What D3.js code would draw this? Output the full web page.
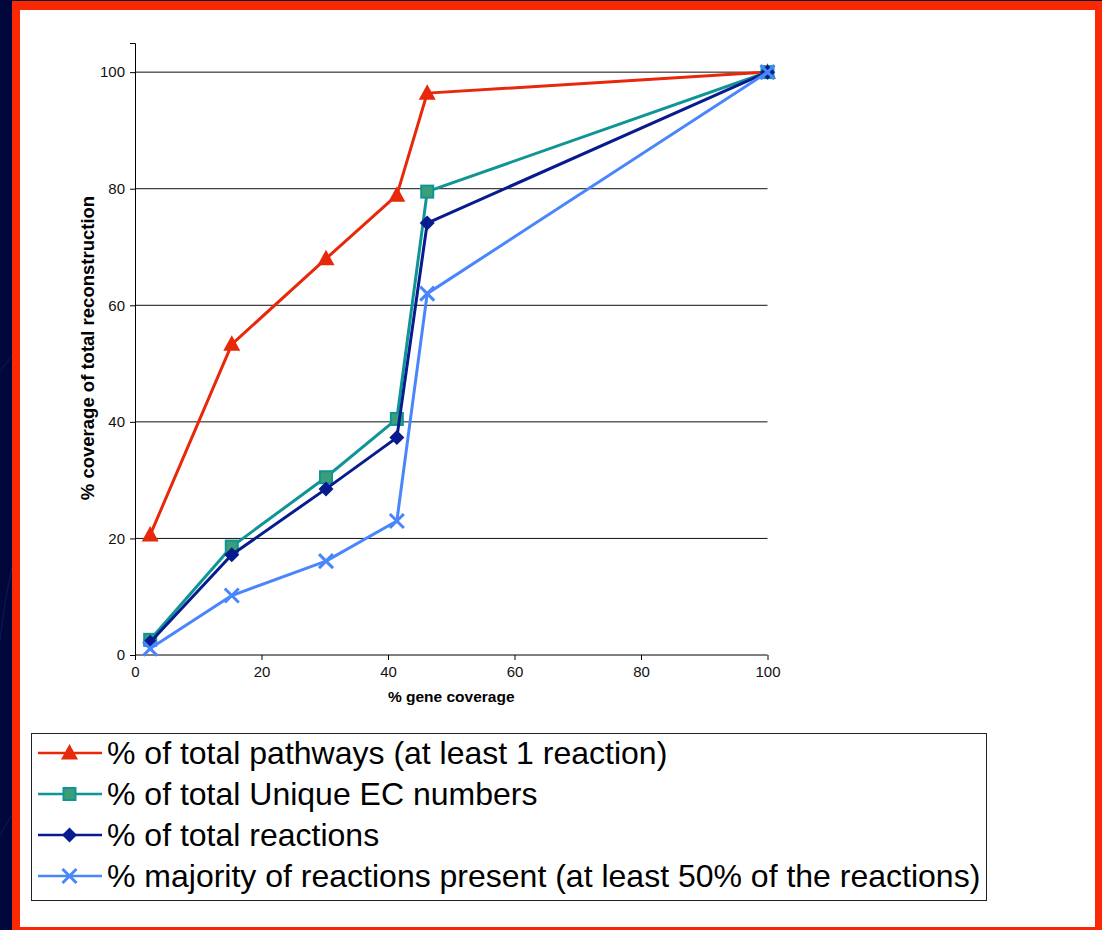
<!DOCTYPE html>
<html>
<head>
<meta charset="utf-8">
<script src="https://cdn.jsdelivr.net/npm/d3@7"></script>
<style>
  html, body { margin: 0; padding: 0; background: #01073a; }
  svg { display: block; }
  text { font-family: "Liberation Sans", Arial, Helvetica, sans-serif; }
</style>
</head>
<body>
<svg id="chart" width="1102" height="930"></svg>
<script>
// % gene coverage at each sampling point
const geneCoverage = [2.4, 15.3, 30.2, 41.4, 46.2, 100];

// % coverage of the total reconstruction for each measure
const pathways  = [20.6, 53.3, 68.0, 78.9, 96.4, 100];
const ecNumbers = [2.6, 18.6, 30.5, 40.5, 79.5, 100];
const reactions = [2.2, 17.2, 28.5, 37.3, 74.1, 100];
const majority  = [1.1, 10.2, 16.1, 23.0, 62.0, 100];

const seriesNames = [
  "% of total pathways (at least 1 reaction)",
  "% of total Unique EC numbers",
  "% of total reactions",
  "% majority of reactions present (at least 50% of the reactions)"
];

const xTicks = [0, 20, 40, 60, 80, 100];
const yTicks = [0, 20, 40, 60, 80, 100];

const xTitle = "% gene coverage";
const yTitle = "% coverage of total reconstruction";

const series = [
  { name: seriesNames[0], values: pathways,  line: "#e8280a", fill: "#e8280a", stroke: "none",    marker: "triangle" },
  { name: seriesNames[1], values: ecNumbers, line: "#0f9595", fill: "#3b9e79", stroke: "#0f9595", marker: "square" },
  { name: seriesNames[2], values: reactions, line: "#071b8e", fill: "#071b8e", stroke: "none",    marker: "diamond" },
  { name: seriesNames[3], values: majority,  line: "#4a86fb", fill: "none",    stroke: "#4a86fb", marker: "cross" }
];

const svg = d3.select("#chart");
const W = 1102, H = 930;

// Slide backdrop: navy field with faint sweeping curves, red frame, white panel
svg.append("rect").attr("width", W).attr("height", H).attr("fill", "#01073a");
const curves = svg.append("g").attr("fill", "none").attr("stroke", "#2a3f8a").attr("stroke-opacity", 0.35).attr("stroke-width", 1);
curves.append("path").attr("d", "M-40,430 Q20,330 120,250");
curves.append("path").attr("d", "M0,640 Q8,560 40,470");
curves.append("path").attr("d", "M-10,860 Q10,800 60,770");
svg.append("rect").attr("x", 12).attr("y", 1).attr("width", W - 12).attr("height", H - 1).attr("fill", "#fa2805");
svg.append("rect").attr("x", 20).attr("y", 10).attr("width", 1075).attr("height", 917).attr("fill", "#ffffff");

// Plot area
const x = d3.scaleLinear().domain([0, 100]).range([135, 767.5]);
const y = d3.scaleLinear().domain([0, 105]).range([655, 43]);

const plot = svg.append("g");

// Horizontal gridlines
plot.append("g")
  .selectAll("line")
  .data(yTicks.filter(d => d > 0))
  .join("line")
  .attr("x1", x(0)).attr("x2", x(100))
  .attr("y1", d => y(d)).attr("y2", d => y(d))
  .attr("stroke", "#111").attr("stroke-width", 1);

// Axes
const xAxis = d3.axisBottom(x).tickValues(xTicks).tickSize(5).tickPadding(6).tickFormat(d3.format("d"));
const yAxis = d3.axisLeft(y).tickValues(yTicks).tickSize(5).tickPadding(5).tickFormat(d3.format("d"));

const gx = plot.append("g").attr("transform", `translate(0,${y(0)})`).call(xAxis);
const gy = plot.append("g").attr("transform", `translate(${x(0)},0)`).call(yAxis);
[gx, gy].forEach(g => {
  g.select(".domain").attr("stroke", "#000").attr("stroke-width", 1);
  g.selectAll(".tick line").attr("stroke", "#000");
  g.selectAll(".tick text")
    .attr("fill", "#111")
    .style("font-family", "'Liberation Sans', Arial, sans-serif")
    .style("font-size", "15px");
});
gx.select(".domain").attr("d", `M${x(0)},0H${x(100)}`);

// Axis titles
plot.append("text")
  .attr("x", (x(0) + x(100)) / 2).attr("y", 702)
  .attr("text-anchor", "middle")
  .style("font-size", "15.5px").style("font-weight", "bold")
  .attr("fill", "#000")
  .text(xTitle);

plot.append("text")
  .attr("transform", `translate(94,348) rotate(-90)`)
  .attr("text-anchor", "middle")
  .style("font-size", "18.5px").style("font-weight", "bold")
  .attr("fill", "#000")
  .text(yTitle);

// Marker shapes
function drawMarker(g, s, cx, cy) {
  if (s.marker === "triangle") {
    g.append("path")
      .attr("d", `M${cx},${cy - 9}L${cx + 8.5},${cy + 6.5}L${cx - 8.5},${cy + 6.5}Z`)
      .attr("fill", s.fill);
  } else if (s.marker === "square") {
    g.append("rect")
      .attr("x", cx - 6).attr("y", cy - 6).attr("width", 12).attr("height", 12)
      .attr("fill", s.fill).attr("stroke", s.stroke).attr("stroke-width", 2);
  } else if (s.marker === "diamond") {
    g.append("path")
      .attr("d", `M${cx},${cy - 7.5}L${cx + 7.5},${cy}L${cx},${cy + 7.5}L${cx - 7.5},${cy}Z`)
      .attr("fill", s.fill);
  } else if (s.marker === "cross") {
    g.append("path")
      .attr("d", `M${cx - 7},${cy - 7}L${cx + 7},${cy + 7}M${cx + 7},${cy - 7}L${cx - 7},${cy + 7}`)
      .attr("fill", "none").attr("stroke", s.stroke).attr("stroke-width", 3);
  }
}

const line = d3.line().x(d => x(d[0])).y(d => y(d[1]));

series.forEach(s => {
  const pts = geneCoverage.map((g, i) => [g, s.values[i]]);
  const g = plot.append("g");
  g.append("path")
    .datum(pts)
    .attr("d", line)
    .attr("fill", "none")
    .attr("stroke", s.line)
    .attr("stroke-width", 3)
    .attr("stroke-linejoin", "round");
  pts.forEach(p => drawMarker(g, s, x(p[0]), y(p[1])));
});

// Legend
const legend = svg.append("g");
legend.append("rect")
  .attr("x", 31.5).attr("y", 733.5).attr("width", 955).attr("height", 167)
  .attr("fill", "#fff").attr("stroke", "#222").attr("stroke-width", 1);

const rowY = d3.scalePoint().domain(d3.range(series.length)).range([753, 876]);
series.forEach((s, i) => {
  const cy = rowY(i);
  const g = legend.append("g");
  g.append("line")
    .attr("x1", 38).attr("x2", 102).attr("y1", cy).attr("y2", cy)
    .attr("stroke", s.line).attr("stroke-width", 2.5);
  drawMarker(g, s, 69.5, cy);
  g.append("text")
    .attr("x", 107).attr("y", cy + 10.5)
    .style("font-size", "32px")
    .attr("fill", "#000")
    .text(s.name);
});
</script>
</body>
</html>
